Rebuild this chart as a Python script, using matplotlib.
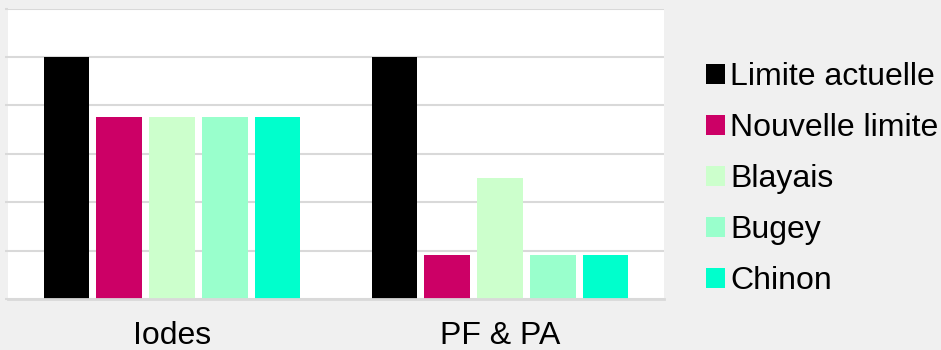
import numpy as np
import matplotlib
matplotlib.use("Agg")
from matplotlib import pyplot as plt
from matplotlib.patches import Patch

plt.rcParams['font.family'] = ['Liberation Sans', 'DejaVu Sans']

groups = ["Iodes", "PF & PA"]
series = ["Limite actuelle", "Nouvelle limite", "Blayais", "Bugey", "Chinon"]
values = [
    [5.0, 5.0],     # Limite actuelle
    [3.75, 0.9],    # Nouvelle limite
    [3.75, 2.5],    # Blayais
    [3.75, 0.9],    # Bugey
    [3.75, 0.9],    # Chinon
]
colors = ["#000000", "#cc0066", "#ccffcc", "#99ffcc", "#00ffcc"]

bg = "#f0f0f0"
grid_col = "#d9d9d9"

fig = plt.figure(figsize=(9.41, 3.5), dpi=100, facecolor=bg)
ax = fig.add_axes([8 / 941, 1 - 299 / 350, 656 / 941, 290.5 / 350])
ax.set_facecolor("white")

x = np.arange(len(groups))
step = 0.161
width = 0.139
for i, (name, vals, c) in enumerate(zip(series, values, colors)):
    ax.bar(x + (i - 2) * step, vals, width, color=c, label=name, zorder=3)

ax.set_xlim(-0.5, 1.5)
ax.set_ylim(0, 6)
ax.set_yticks(np.arange(0, 7, 1))
ax.yaxis.grid(True, color=grid_col, linewidth=1.5, zorder=0)
ax.tick_params(axis='y', length=2, color=grid_col, width=1.5, labelleft=False)
ax.set_xticks(x)
ax.set_xticklabels(groups, fontsize=23)
ax.tick_params(axis='x', length=0, pad=16)
for s in ["left", "right", "top"]:
    ax.spines[s].set_visible(False)
ax.spines["bottom"].set_color(grid_col)
ax.spines["bottom"].set_linewidth(2)
ax.spines["bottom"].set_zorder(4)

# legend to the right of the plot area
handles = [Patch(facecolor=c, edgecolor="none") for c in colors]
fig.legend(handles, series, loc="center left", bbox_to_anchor=(706 / 941, 0.488),
           frameon=False, fontsize=23, handlelength=0.6, handleheight=0.6,
           handletextpad=0.16, labelspacing=0.66, borderpad=0, borderaxespad=0)

fig.savefig("out.png", dpi=100, facecolor=bg)
